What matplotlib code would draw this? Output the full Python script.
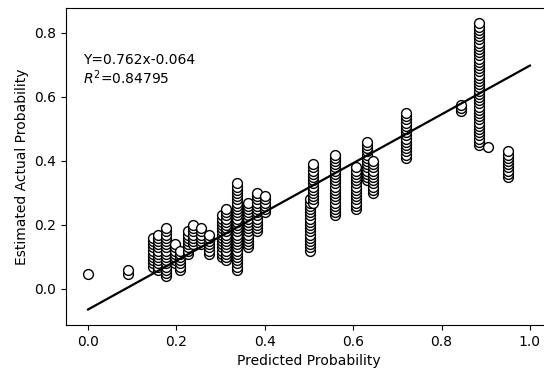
import matplotlib
matplotlib.use("Agg")
import matplotlib.pyplot as plt

# Predicted probability of each group and the estimated actual probabilities observed for it
pred_x = [0.0, 0.09, 0.147, 0.158, 0.176, 0.197, 0.208, 0.226, 0.238, 0.255,
          0.274, 0.303, 0.313, 0.337, 0.363, 0.382, 0.40, 0.502, 0.509, 0.559,
          0.607, 0.631, 0.645, 0.72, 0.845, 0.885, 0.905, 0.95]

actual_y = [
    [0.048],
    [0.048, 0.058],
    [0.07, 0.08, 0.09, 0.10, 0.11, 0.12, 0.13, 0.14, 0.15, 0.16],
    [0.06, 0.07, 0.08, 0.09, 0.10, 0.11, 0.12, 0.13, 0.14, 0.15, 0.16, 0.17],
    [0.04, 0.05, 0.06, 0.07, 0.08, 0.09, 0.10, 0.11, 0.12, 0.13, 0.14, 0.15,
     0.16, 0.17, 0.18, 0.19],
    [0.08, 0.09, 0.10, 0.11, 0.12, 0.13, 0.14],
    [0.06, 0.07, 0.08, 0.09, 0.10, 0.11, 0.12],
    [0.11, 0.12, 0.13, 0.14, 0.15, 0.16, 0.17, 0.18],
    [0.14, 0.15, 0.16, 0.17, 0.18, 0.19, 0.20],
    [0.14, 0.15, 0.16, 0.17, 0.18, 0.19],
    [0.11, 0.12, 0.13, 0.14, 0.15, 0.16, 0.17],
    [0.10, 0.11, 0.12, 0.13, 0.14, 0.15, 0.16, 0.17, 0.18, 0.19, 0.20, 0.21,
     0.22, 0.23],
    [0.09, 0.10, 0.11, 0.12, 0.13, 0.14, 0.15, 0.16, 0.17, 0.18, 0.19, 0.20,
     0.21, 0.22, 0.23, 0.24, 0.25],
    [0.06, 0.07, 0.08, 0.09, 0.10, 0.11, 0.12, 0.13, 0.14, 0.15, 0.16, 0.17,
     0.18, 0.19, 0.20, 0.21, 0.22, 0.23, 0.24, 0.25, 0.26, 0.27, 0.28, 0.29,
     0.30, 0.31, 0.32, 0.33],
    [0.13, 0.14, 0.15, 0.16, 0.17, 0.18, 0.19, 0.20, 0.21, 0.22, 0.23, 0.24,
     0.25, 0.26, 0.27],
    [0.18, 0.19, 0.20, 0.21, 0.22, 0.23, 0.24, 0.25, 0.26, 0.27, 0.28, 0.29,
     0.30],
    [0.24, 0.25, 0.26, 0.27, 0.28, 0.29],
    [0.12, 0.13, 0.14, 0.15, 0.16, 0.17, 0.18, 0.19, 0.20, 0.21, 0.22, 0.23,
     0.24, 0.25, 0.26, 0.27, 0.28],
    [0.27, 0.28, 0.29, 0.30, 0.31, 0.32, 0.33, 0.34, 0.35, 0.36, 0.37, 0.38,
     0.39],
    [0.23, 0.24, 0.25, 0.26, 0.27, 0.28, 0.29, 0.30, 0.31, 0.32, 0.33, 0.34,
     0.35, 0.36, 0.37, 0.38, 0.39, 0.40, 0.41, 0.42],
    [0.25, 0.26, 0.27, 0.28, 0.29, 0.30, 0.31, 0.32, 0.33, 0.34, 0.35, 0.36,
     0.37, 0.38],
    [0.34, 0.35, 0.36, 0.37, 0.38, 0.39, 0.40, 0.41, 0.42, 0.43, 0.44, 0.45,
     0.46],
    [0.30, 0.31, 0.32, 0.33, 0.34, 0.35, 0.36, 0.37, 0.38, 0.39, 0.40],
    [0.41, 0.42, 0.43, 0.44, 0.45, 0.46, 0.47, 0.48, 0.49, 0.50, 0.51, 0.52,
     0.53, 0.54, 0.55],
    [0.555, 0.565, 0.575],
    [0.45, 0.46, 0.47, 0.48, 0.49, 0.50, 0.51, 0.52, 0.53, 0.54, 0.55, 0.56,
     0.57, 0.58, 0.59, 0.60, 0.61, 0.62, 0.63, 0.64, 0.65, 0.66, 0.67, 0.68,
     0.69, 0.70, 0.71, 0.72, 0.73, 0.74, 0.75, 0.76, 0.77, 0.78, 0.79, 0.80,
     0.81, 0.82, 0.83],
    [0.445],
    [0.35, 0.36, 0.37, 0.38, 0.39, 0.40, 0.41, 0.42, 0.43],
]

# Fitted calibration line
slope = 0.762
intercept = -0.064
r_squared = 0.84795
line_x = [0.0, 1.0]

xs, ys = [], []
for x, col in zip(pred_x, actual_y):
    for y in col:
        xs.append(x)
        ys.append(y)

fig = plt.figure(figsize=(5.44, 3.73), dpi=100)
ax = fig.add_axes([0.1213, 0.1287, 0.8934, 0.8499])

ax.scatter(xs, ys, s=50, facecolors="white", edgecolors="black", linewidths=1.0, zorder=2)
ax.plot(line_x, [slope * v + intercept for v in line_x], color="black", linewidth=1.6, zorder=3)

ax.text(-0.012, 0.738, f"Y={slope}x{intercept}\n$R^2$={r_squared}",
        fontsize=10, va="top", ha="left", linespacing=1.1)

ax.set_xlim(-0.05, 1.05)
ax.set_ylim(-0.1125, 0.878)
ax.set_xticks([0.0, 0.2, 0.4, 0.6, 0.8, 1.0])
ax.set_yticks([0.0, 0.2, 0.4, 0.6, 0.8])
ax.set_xlabel("Predicted Probability")
ax.set_ylabel("Estimated Actual Probability")

fig.savefig("out.png", dpi=100)
